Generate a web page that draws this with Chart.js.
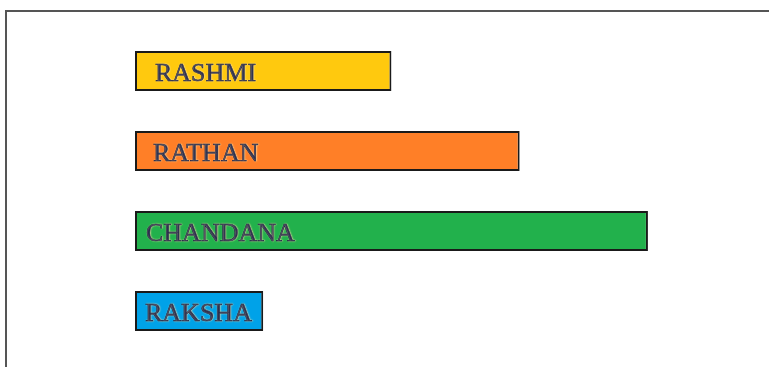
<!DOCTYPE html>
<html><head><meta charset="utf-8">
<script src="https://cdn.jsdelivr.net/npm/chart.js@4"></script>
<style>html,body{margin:0;padding:0;background:#fff}#wrap{width:769px;height:367px;position:relative}</style>
</head><body><div id="wrap"><canvas id="c"></canvas></div>
<script>
const categories = ["RASHMI", "RATHAN", "CHANDANA", "RAKSHA"];
const values = [2, 3, 4, 1];
const barColors = ["#FFC90E", "#FF7F27", "#22B14C", "#00A2E8"];
const labelOffsets = [20, 18, 11, 10];

const framePlugin = {
  id: 'frame',
  beforeDraw(chart) {
    const ctx = chart.ctx;
    ctx.save();
    ctx.fillStyle = '#fff';
    ctx.fillRect(0, 0, chart.width, chart.height);
    ctx.strokeStyle = '#555';
    ctx.lineWidth = 2;
    ctx.strokeRect(6, 11, 820, 420);
    ctx.restore();
  }
};

const labelPlugin = {
  id: 'inlabels',
  afterDatasetsDraw(chart) {
    const ctx = chart.ctx;
    const meta = chart.getDatasetMeta(0);
    ctx.save();
    ctx.font = '26px "Liberation Serif", "DejaVu Serif", serif';
    ctx.textBaseline = 'middle';
    ctx.textAlign = 'left';
    meta.data.forEach((bar, i) => {
      const x = bar.base + labelOffsets[i];
      const y = bar.y + 3;
      ctx.shadowColor = 'rgba(255,230,170,0.9)';
      ctx.shadowBlur = 1.5;
      ctx.shadowOffsetX = 0.5;
      ctx.shadowOffsetY = 0.5;
      ctx.fillStyle = '#161c45';
      ctx.strokeStyle = '#161c45';
      ctx.lineWidth = 0.5;
      ctx.fillText(categories[i], x, y);
      ctx.strokeText(categories[i], x, y);
    });
    ctx.restore();
  }
};

new Chart(document.getElementById('c'), {
  type: 'bar',
  data: {
    labels: categories,
    datasets: [{
      data: values,
      backgroundColor: barColors,
      borderColor: '#1a1a1a',
      borderWidth: 2,
      borderSkipped: false,
      barPercentage: 0.5,
      categoryPercentage: 1.0
    }]
  },
  options: {
    indexAxis: 'y',
    responsive: true,
    maintainAspectRatio: false,
    animation: false,
    layout: { padding: { left: 135, right: 57, top: 31, bottom: 16 } },
    plugins: { legend: { display: false }, tooltip: { enabled: false } },
    scales: {
      x: { display: false, min: 0, max: 4.5 },
      y: { display: false }
    }
  },
  plugins: [framePlugin, labelPlugin]
});
</script></body></html>
